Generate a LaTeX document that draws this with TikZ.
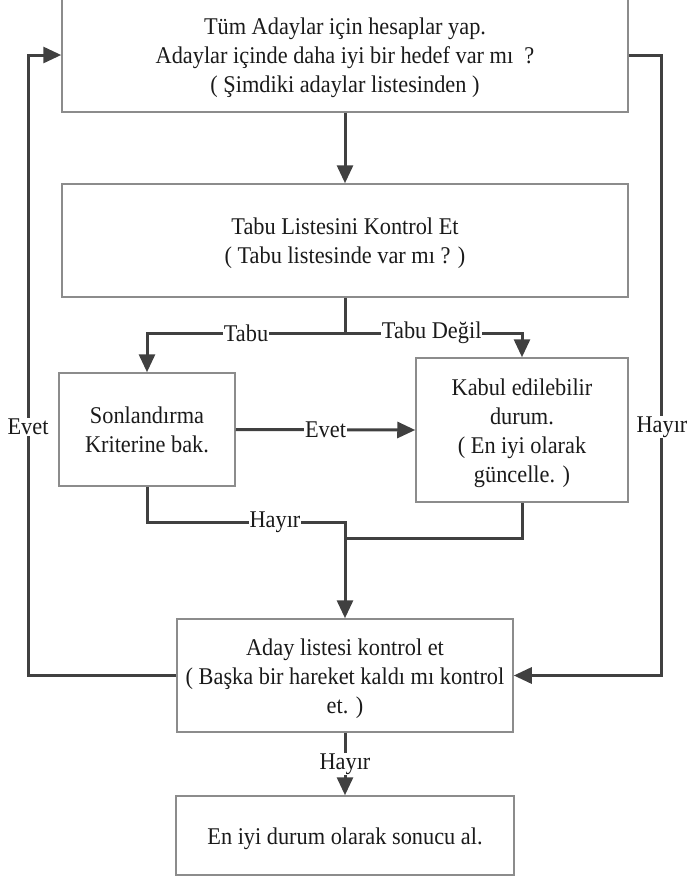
\documentclass[tikz,border=0pt]{standalone}
\usepackage{fontspec}
\setmainfont{Liberation Serif}[FakeStretch=0.93]
\usetikzlibrary{arrows.meta}
\definecolor{linegray}{HTML}{404040}
\definecolor{boxgray}{HTML}{8C8C8C}
\definecolor{inkcol}{HTML}{1A1A1A}
\newcommand{\boxfont}{\fontsize{24}{29}\selectfont}
% centred lines, set a little below the middle of their box
\newcommand{\boxlines}[1]{\raisebox{-3pt}[\height][\depth]{\begin{tabular}{@{}c@{}}#1\end{tabular}}}
\begin{document}
\begin{tikzpicture}[x=1pt,y=-1pt,
  box/.style={draw=boxgray, line width=1.5pt, rectangle, text=inkcol,
    font=\boxfont, inner sep=0pt},
  conn/.style={draw=linegray, line width=3pt},
  arr/.style={conn, -{Triangle[length=18pt,width=16pt]}},
  lbl/.style={fill=white, text=inkcol, font=\boxfont, inner sep=1pt}]
\useasboundingbox (0,0) rectangle (688,876);

% process boxes
\node[box, minimum width=566pt, minimum height=114pt] (top) at (345,55)
  {\boxlines{Tüm Adaylar için hesaplar yap.\\Adaylar içinde daha iyi bir hedef var mı\ \ ?\\( Şimdiki adaylar listesinden )}};
\node[box, minimum width=566pt, minimum height=113pt] (tabu) at (345,240.5)
  {\boxlines{Tabu Listesini Kontrol Et\\( Tabu listesinde var mı ? )}};
\node[box, minimum width=176pt, minimum height=113pt] (sonl) at (147,429.5)
  {\boxlines{Sonlandırma\\Kriterine bak.}};
\node[box, minimum width=212pt, minimum height=144pt] (kabul) at (522,430)
  {\boxlines{Kabul edilebilir\\durum.\\( En iyi olarak\\güncelle. )}};
\node[box, minimum width=336pt, minimum height=113pt] (aday) at (345,675.5)
  {\boxlines{Aday listesi kontrol et\\( Başka bir hareket kaldı mı kontrol\\et. )}};
\node[box, minimum width=338pt, minimum height=79pt] (last) at (345,835.5)
  {\boxlines{En iyi durum olarak sonucu al.}};

% junction points
\coordinate (split) at (345,333);
\coordinate (hj) at (345,522);
\coordinate (kj) at (345,538);
\coordinate (lt) at (28,55);
\coordinate (rb) at (661,675.5);

% connectors
\draw[arr] (top) -- (tabu);
\draw[conn] (tabu.south) -- (split);
\draw[arr] (split) -| (sonl.north) node[lbl, pos=0.25] (ltabu) {Tabu};
\draw[arr] (split) -| (kabul.north) node[lbl, pos=0.245] (ltabud) {Tabu Değil};
\draw[arr] (sonl.east) -- (kabul.west) node[lbl, midway] (levet) {Evet};
\draw[arr] (sonl.south) |- (hj) -- (aday.north);
\node[lbl] (lhayir) at (275,522) {Hayır};
\draw[conn] (kabul.south) |- (kj);
\draw[arr] (aday.south) -- (last.north) node[lbl, midway] (lhayir2) {Hayır};
\draw[arr] (aday.west) -| (lt) -- (top.west);
\node[lbl] (levet2) at (28,427) {Evet};
\draw[arr] (top.east) -| (rb) -- (aday.east);
\node[lbl] (lhayir3) at (662,427) {Hayır};
\end{tikzpicture}
\end{document}
